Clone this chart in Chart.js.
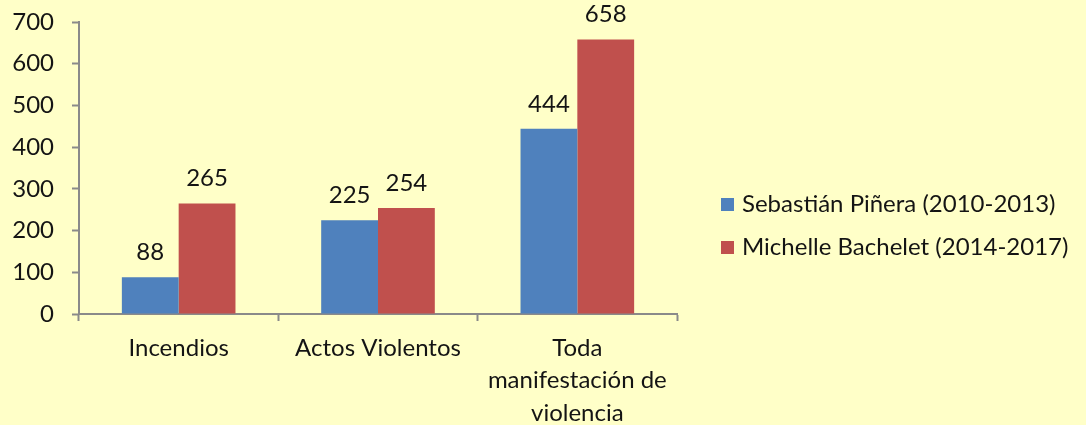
<!DOCTYPE html>
<html>
<head>
<meta charset="utf-8">
<script src="https://cdn.jsdelivr.net/npm/chart.js@4/dist/chart.umd.min.js"></script>
<style>
    html, body { margin: 0; padding: 0; background: #FFFFC8; }
    #wrap { width: 1086px; height: 425px; }
</style>
</head>
<body>
<div id="wrap"><canvas id="chart"></canvas></div>
<script>
// Datos del gráfico
const categories = [['Incendios'], ['Actos Violentos'], ['Toda', 'manifestación de', 'violencia']];
const seriesNames = ['Sebastián Piñera (2010-2013)', 'Michelle Bachelet (2014-2017)'];
const pineraValues = [88, 225, 444];
const bacheletValues = [265, 254, 658];
const yTicks = [0, 100, 200, 300, 400, 500, 600, 700];

const textColor = '#141414';
const axisColor = '#8a8a8a';
const fontFamily = 'Lato, "Open Sans", sans-serif';
const fontSize = 24;

// Etiquetas de valor encima de cada barra
const valueLabels = {
    id: 'valueLabels',
    afterDatasetsDraw(chart) {
        const ctx = chart.ctx;
        ctx.save();
        ctx.font = fontSize + 'px ' + fontFamily;
        ctx.fillStyle = textColor;
        ctx.textAlign = 'center';
        ctx.textBaseline = 'middle';
        chart.data.datasets.forEach((ds, i) => {
            chart.getDatasetMeta(i).data.forEach((bar, j) => {
                ctx.fillText(ds.data[j], bar.x, bar.y - 25);
            });
        });
        ctx.restore();
    }
};

// Leyenda a la derecha
const sideLegend = {
    id: 'sideLegend',
    afterDraw(chart) {
        const ctx = chart.ctx;
        ctx.save();
        ctx.font = fontSize + 'px ' + fontFamily;
        ctx.textBaseline = 'middle';
        ctx.textAlign = 'left';
        chart.data.datasets.forEach((ds, i) => {
            const y = 204 + i * 43;
            ctx.fillStyle = ds.backgroundColor;
            ctx.fillRect(721, y - 6, 13, 13);
            ctx.fillStyle = textColor;
            ctx.fillText(ds.label, 742, y);
        });
        ctx.restore();
    }
};

new Chart(document.getElementById('chart'), {
    type: 'bar',
    data: {
        labels: categories,
        datasets: [
            { label: seriesNames[0], data: pineraValues, backgroundColor: '#4F81BD' },
            { label: seriesNames[1], data: bacheletValues, backgroundColor: '#C0504D' }
        ]
    },
    options: {
        responsive: true,
        maintainAspectRatio: false,
        animation: false,
        datasets: { bar: { categoryPercentage: 0.57, barPercentage: 1.0 } },
        layout: { padding: { top: 22, right: 409, left: 0, bottom: 0 } },
        plugins: {
            legend: { display: false },
            tooltip: { enabled: false }
        },
        scales: {
            x: {
                grid: { offset: true, drawOnChartArea: false, color: axisColor, tickLength: 7, tickWidth: 2 },
                border: { color: axisColor, width: 2 },
                ticks: { color: textColor, font: { family: fontFamily, size: fontSize, lineHeight: 1.35 }, padding: 11, maxRotation: 0, autoSkip: false },
                afterFit: (scale) => { scale.height = 111; scale.paddingLeft = 0; scale.paddingRight = 0; }
            },
            y: {
                min: 0,
                max: 700,
                afterBuildTicks: (scale) => { scale.ticks = yTicks.map(v => ({ value: v })); },
                grid: { drawOnChartArea: false, color: axisColor, tickLength: 7, tickWidth: 2 },
                border: { color: axisColor, width: 2 },
                ticks: { color: textColor, font: { family: fontFamily, size: fontSize }, padding: 18 },
                afterFit: (scale) => { scale.width = 79; scale.paddingTop = 0; scale.paddingBottom = 0; }
            }
        }
    },
    plugins: [valueLabels, sideLegend]
});
</script>
</body>
</html>
